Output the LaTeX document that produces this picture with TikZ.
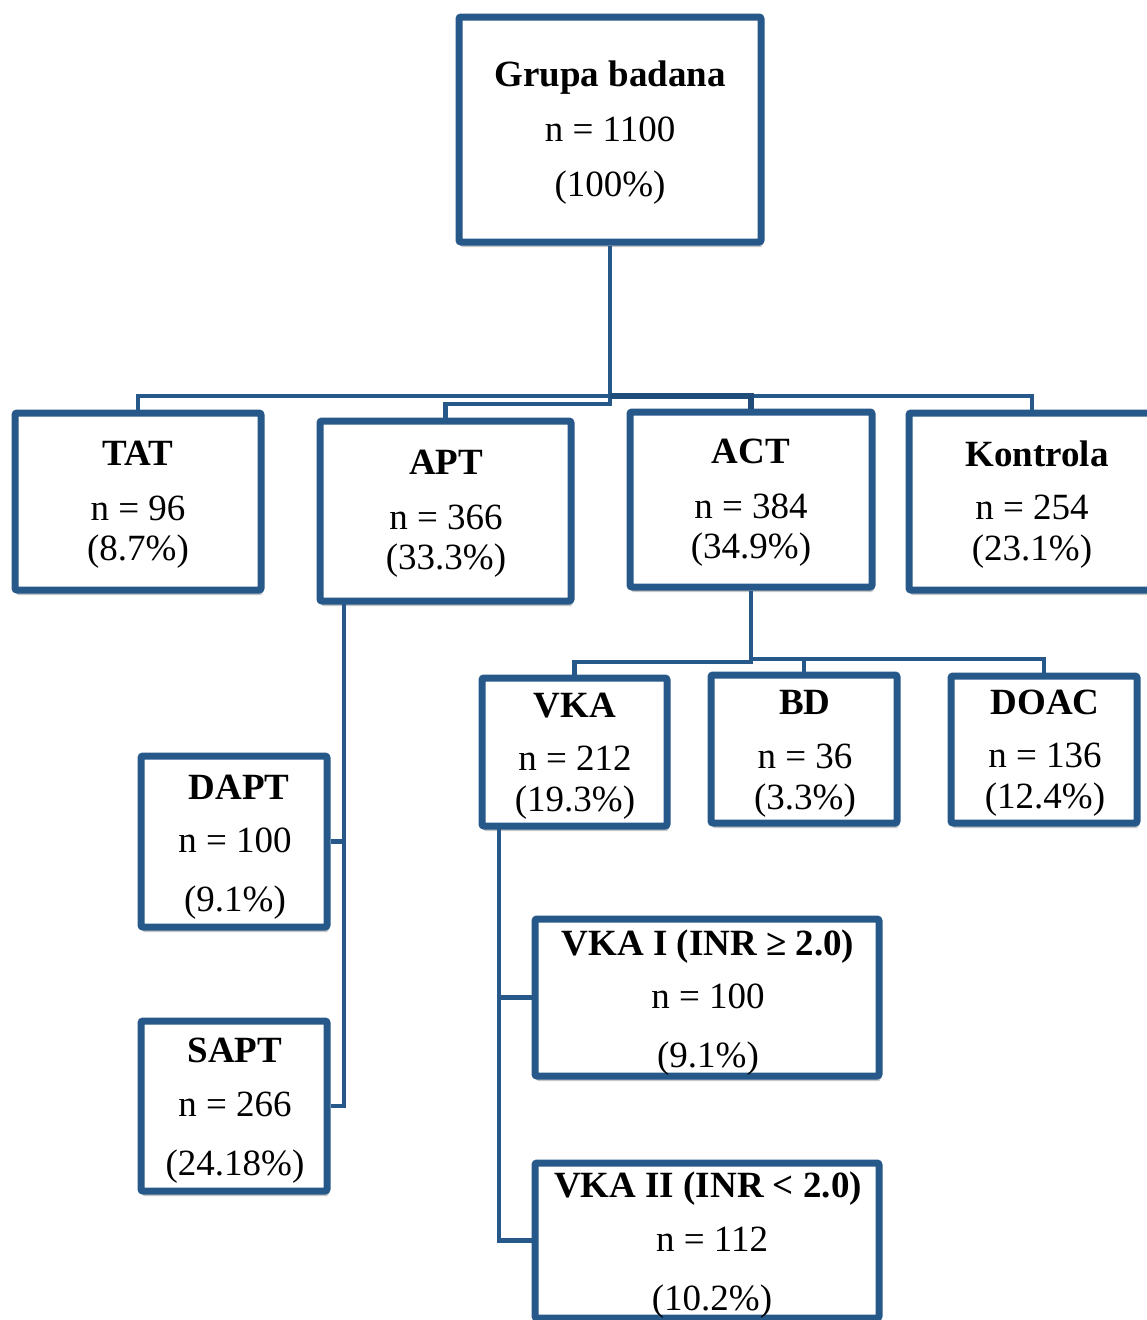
\documentclass[tikz,border=0pt]{standalone}
\usepackage{fontspec}
\setmainfont{Liberation Serif}
\usetikzlibrary{shadows}
\definecolor{boxblue}{HTML}{26588A}
\definecolor{darkblue}{HTML}{1F4C78}
\newcommand{\bigfont}{\fontsize{37}{44}\selectfont}
\tikzset{
  box/.style={draw=boxblue, line width=7pt, fill=white, rounded corners=2pt, inner sep=0pt,
    drop shadow={shadow xshift=1.5pt, shadow yshift=-5pt, opacity=0.22, fill=black}},
  conn/.style={draw=boxblue, line width=4.5pt},
  ttl/.style={anchor=base, inner sep=0pt, font=\bigfont\bfseries},
  txt/.style={anchor=base, inner sep=0pt, font=\bigfont}
}
\newcommand{\gbox}[5]{\node[box, minimum width={#4-#2}, minimum height={#5-#3}] (#1) at ({(#2+#4)/2},{(#3+#5)/2}) {};}
\begin{document}
\begin{tikzpicture}[x=1pt, y=-1pt]
\useasboundingbox[fill=white] (0,0) rectangle (1146,1320);

% boxes (centre-line coordinates)
\gbox{grupa}{459}{17}{761}{242}
\gbox{tat}{15}{413}{261}{590}
\gbox{apt}{320}{421}{571}{601}
\gbox{act}{630}{412}{872}{587}
\gbox{kontrola}{909}{413}{1155}{590}
\gbox{vka}{482}{678}{667}{826}
\gbox{bd}{711}{675}{897}{823}
\gbox{doac}{951}{676}{1137}{823}
\gbox{dapt}{141}{756}{327}{927}
\gbox{sapt}{141}{1021}{327}{1191}
\gbox{vkaI}{535}{919}{879}{1076}
\gbox{vkaII}{535}{1163}{879}{1318}

% connectors
\coordinate (j0) at (610,396);
\coordinate (j1) at (751,659);
\coordinate (aptx) at (344,601);
\coordinate (vkax) at (499,826);
\draw[conn] (grupa.south) -- (j0);
\draw[conn] (tat.north) |- (j0);
\draw[conn] (kontrola.north) |- (j0);
\draw[conn] (j0) -- ++(0,8) -| (apt.north);
\draw[conn, draw=darkblue, line width=5.5pt] (j0) -| (act.north);
\draw[conn] (act.south) -- (j1);
\draw[conn] (j1) -| (doac.north);
\draw[conn] (j1) -| (bd.north);
\draw[conn] (j1) -- ++(0,3) -| (vka.north);
\draw[conn] (aptx) |- (sapt.east);
\draw[conn] (dapt.east) -- (dapt.east -| aptx);
\draw[conn] (vkax) |- (vkaII.west);
\draw[conn] (vkaI.west) -- (vkaI.west -| vkax);

% texts
\node[ttl] (grupa1) at (610,86) {Grupa badana};
\node[txt] (grupa2) at (610,141) {n = 1100};
\node[txt] (grupa3) at (610,196) {(100\%)};

\node[ttl] (tat1) at (138,465) {TAT};
\node[txt] (tat2) at (138,520) {n = 96};
\node[txt] (tat3) at (138,560) {(8.7\%)};

\node[ttl] (apt1) at (446,474) {APT};
\node[txt] (apt2) at (446,529) {n = 366};
\node[txt] (apt3) at (446,569) {(33.3\%)};

\node[ttl] (act1) at (751,463) {ACT};
\node[txt] (act2) at (751,518) {n = 384};
\node[txt] (act3) at (751,558) {(34.9\%)};

\node[ttl] (kon1) at (1037,466) {Kontrola};
\node[txt] (kon2) at (1032,519) {n = 254};
\node[txt] (kon3) at (1032,560) {(23.1\%)};

\node[ttl] (vka1) at (575,717) {VKA};
\node[txt] (vka2) at (575,770) {n = 212};
\node[txt] (vka3) at (575,811) {(19.3\%)};

\node[ttl] (bd1) at (805,714) {BD};
\node[txt] (bd2) at (805,768) {n = 36};
\node[txt] (bd3) at (805,809) {(3.3\%)};

\node[ttl] (doac1) at (1045,714) {DOAC};
\node[txt] (doac2) at (1045,767) {n = 136};
\node[txt] (doac3) at (1045,808) {(12.4\%)};

\node[ttl] (dapt1) at (239,799) {DAPT};
\node[txt] (dapt2) at (235,852) {n = 100};
\node[txt] (dapt3) at (235,911) {(9.1\%)};

\node[ttl] (sapt1) at (235,1062) {SAPT};
\node[txt] (sapt2) at (235,1116) {n = 266};
\node[txt] (sapt3) at (235,1175) {(24.18\%)};

\node[ttl] (vkaI1) at (708,955) {VKA I (INR ≥ 2.0)};
\node[txt] (vkaI2) at (708,1008) {n = 100};
\node[txt] (vkaI3) at (708,1067) {(9.1\%)};

\node[ttl] (vkaII1) at (708,1197) {VKA II (INR < 2.0)};
\node[txt] (vkaII2) at (712,1251) {n = 112};
\node[txt] (vkaII3) at (712,1310) {(10.2\%)};
\end{tikzpicture}
\end{document}
